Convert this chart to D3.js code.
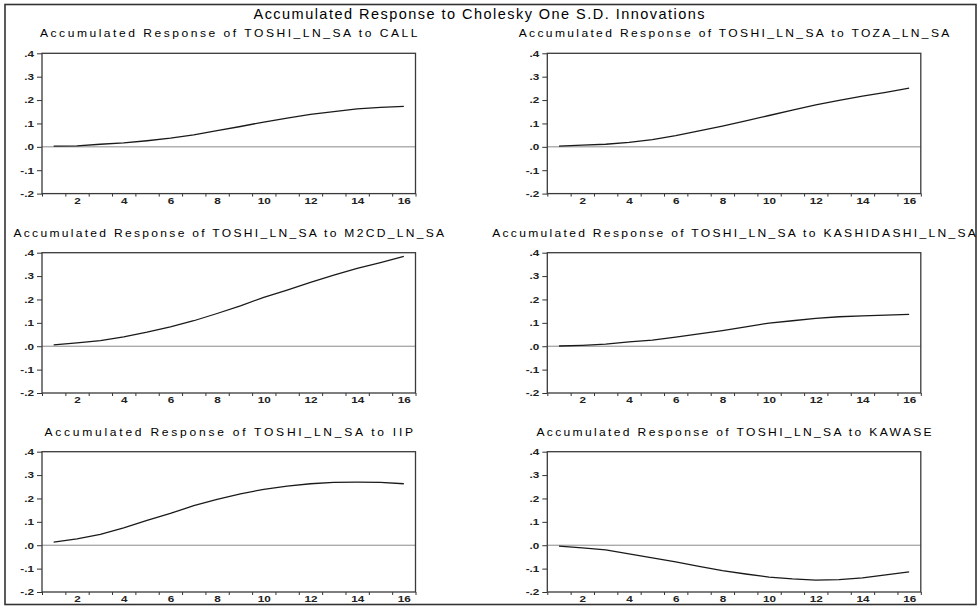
<!DOCTYPE html>
<html><head><meta charset="utf-8">
<script src="https://cdn.jsdelivr.net/npm/d3@7"></script>
<style>
body{margin:0;background:#fff}
svg{display:block}
text{font-family:"Liberation Sans",Arial,sans-serif;fill:#111}
</style>
</head><body>
<svg id="chart" width="978" height="606"></svg>
<script>
const mainTitle = "Accumulated Response to Cholesky One S.D. Innovations";
const responseVar = "TOSHI_LN_SA";
const shocks = ["CALL","TOZA_LN_SA","M2CD_LN_SA","KASHIDASHI_LN_SA","IIP","KAWASE"];
const periods = [1,2,3,4,5,6,7,8,9,10,11,12,13,14,15,16];

const respCall   = [0.003,0.004,0.011,0.017,0.026,0.037,0.051,0.069,0.087,0.106,0.123,0.139,0.151,0.162,0.169,0.173];
const respToza   = [0.003,0.007,0.011,0.019,0.031,0.048,0.068,0.089,0.111,0.134,0.157,0.179,0.199,0.217,0.233,0.251];
const respM2cd   = [0.006,0.014,0.024,0.040,0.060,0.083,0.109,0.140,0.173,0.209,0.240,0.273,0.304,0.333,0.358,0.384];
const respKashi  = [0.001,0.004,0.009,0.019,0.026,0.039,0.053,0.067,0.083,0.099,0.109,0.119,0.126,0.130,0.133,0.136];
const respIip    = [0.013,0.027,0.046,0.074,0.106,0.136,0.169,0.196,0.220,0.239,0.253,0.263,0.269,0.270,0.269,0.263];
const respKawase = [-0.004,-0.011,-0.020,-0.037,-0.054,-0.071,-0.090,-0.109,-0.123,-0.136,-0.144,-0.149,-0.147,-0.140,-0.127,-0.114];
const seriesList = [respCall,respToza,respM2cd,respKashi,respIip,respKawase];

const yTickValues = [0.4,0.3,0.2,0.1,0,-0.1,-0.2];
const yTickLabels = [".4",".3",".2",".1",".0","-.1","-.2"];
const xLabelPeriods = [2,4,6,8,10,12,14,16];

const svg = d3.select("#chart");

function stretch(sel, factor){
  sel.each(function(){
    const w = this.getComputedTextLength();
    d3.select(this).attr("textLength", w*factor).attr("lengthAdjust","spacingAndGlyphs");
  });
}

// outer frame
svg.append("rect").attr("x",5).attr("y",4.5).attr("width",971).attr("height",600)
  .attr("fill","none").attr("stroke","#333").attr("stroke-width",1.6);

svg.append("text").attr("x",479).attr("y",18.5).attr("text-anchor","middle")
  .attr("font-size",14.5).attr("textLength",451).attr("lengthAdjust","spacing")
  .style("fill","#000").text(mainTitle);

const colLeft = [42,547.3];
const rowTop = [53.3,252.7,451.7];
const plotW = 373.5, plotH = 140.3;
const glyphScale = 1.15;

shocks.forEach((shock,i)=>{
  const col = i%2, row = Math.floor(i/2);
  const g = svg.append("g").attr("transform",`translate(${colLeft[col]},${rowTop[row]})`);
  const x = d3.scaleLinear().domain([0.5,16.5]).range([0,plotW]);
  const y = d3.scaleLinear().domain([-0.2,0.4]).range([plotH,0]);

  const title = `Accumulated Response of ${responseVar} to ${shock}`;
  g.append("g").attr("transform",`translate(${plotW/2},-16)`)
    .append("text").attr("x",0).attr("y",0).attr("text-anchor","middle")
    .attr("transform",`scale(${glyphScale},1)`)
    .attr("font-size",10.5).attr("textLength",(title.length*8.85-3)/glyphScale).attr("lengthAdjust","spacing")
    .style("fill","#000").text(title);

  // zero line
  g.append("line").attr("x1",0).attr("x2",plotW).attr("y1",y(0)).attr("y2",y(0))
    .attr("stroke","#8a8a8a").attr("stroke-width",1);

  // y axis
  const ya = g.append("g").call(d3.axisLeft(y).tickValues(yTickValues)
      .tickFormat((d,j)=>yTickLabels[j]).tickSize(5).tickPadding(3));
  ya.select(".domain").remove();
  ya.selectAll("line").attr("stroke","#333");
  ya.selectAll("text").attr("font-size",9).attr("font-weight","bold").style("fill","#222").attr("font-family",null);
  stretch(ya.selectAll("text"),1.3);

  // x tick marks at period boundaries
  const xb = g.append("g").attr("transform",`translate(0,${plotH})`)
    .call(d3.axisBottom(x).tickValues(d3.range(0.5,17,1)).tickFormat("").tickSize(3));
  xb.select(".domain").remove();
  xb.selectAll("line").attr("stroke","#333");

  const xl = g.append("g").attr("transform",`translate(0,${plotH})`)
    .call(d3.axisBottom(x).tickValues(xLabelPeriods).tickSize(0).tickPadding(4));
  xl.select(".domain").remove();
  xl.selectAll("text").attr("font-size",9).attr("font-weight","bold").style("fill","#222").attr("font-family",null);
  stretch(xl.selectAll("text"),1.3);

  // frame
  g.append("rect").attr("x",0).attr("y",0).attr("width",plotW).attr("height",plotH)
    .attr("fill","none").attr("stroke","#3a3a3a").attr("stroke-width",1.3);

  const data = seriesList[i];
  g.append("path").datum(periods.map((p,k)=>[p,data[k]]))
    .attr("d",d3.line().x(d=>x(d[0])).y(d=>y(d[1])))
    .attr("fill","none").attr("stroke","#1a1a1a").attr("stroke-width",1.3);
});
</script>
</body></html>
